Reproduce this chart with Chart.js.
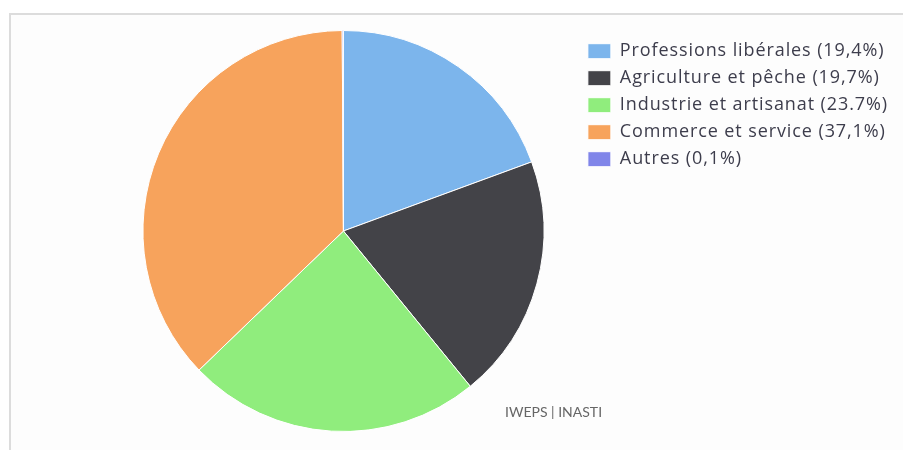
<!DOCTYPE html>
<html>
<head>
<meta charset="utf-8">
<script src="https://cdn.jsdelivr.net/npm/chart.js@4/dist/chart.umd.min.js"></script>
<style>
  html, body { margin: 0; padding: 0; background: #fff; }
  #box {
    position: absolute; left: 9px; top: 13px; width: 900px; height: 440px;
    border-left: 2px solid #dcdcdc; border-top: 2px solid #dcdcdc;
    background: #fdfdfd;
  }
  #wrap { position: absolute; left: 0; top: 0; width: 892px; height: 437px; }
  #credit {
    position: absolute; left: 494px; top: 388px;
    font-family: Lato, sans-serif; font-size: 14px; color: #666;
  }
</style>
</head>
<body>
<div id="box">
  <div id="wrap"><canvas id="myChart"></canvas></div>
  <div id="credit">IWEPS | INASTI</div>
</div>
<script>
var labels = ["Professions libérales (19,4%)", "Agriculture et pêche (19,7%)", "Industrie et artisanat (23.7%)", "Commerce et service (37,1%)", "Autres (0,1%)"];
var values = [19.4, 19.7, 23.7, 37.1, 0.1];
var colors = ["#7cb5ec", "#434348", "#90ed7d", "#f7a35c", "#8085e9"];

// a bit of letter spacing so the legend text is as wide as in the picture
var spacing = {
    id: 'spacing',
    beforeUpdate: function (chart) { chart.ctx.letterSpacing = '0.9px'; },
    beforeDraw: function (chart) { chart.ctx.letterSpacing = '0.9px'; }
};

function renderChart(data, labels) {
    var ctx = document.getElementById("myChart").getContext('2d');
    var myChart = new Chart(ctx, {
        type: 'pie',
        plugins: [spacing],
        data: {
            labels: labels,
            datasets: [{
                data: data,
                backgroundColor: colors,
                borderColor: '#ffffff',
                borderWidth: 1
            }]
        },
        options: {
            responsive: true,
            maintainAspectRatio: false,
            animation: false,
            layout: { padding: { left: 97, top: 15, bottom: 20, right: 5 } },
            plugins: {
                tooltip: { enabled: false },
                legend: {
                    position: 'right',
                    align: 'start',
                    title: { display: true, text: ' ', font: { size: 1 }, padding: { top: 1, bottom: 1 } },
                    labels: {
                        boxWidth: 23,
                        boxHeight: 15,
                        padding: 9,
                        color: '#3d3d4c',
                        font: { family: 'Open Sans', size: 18 }
                    }
                }
            }
        }
    });
}

renderChart(values, labels);
</script>
</body>
</html>
